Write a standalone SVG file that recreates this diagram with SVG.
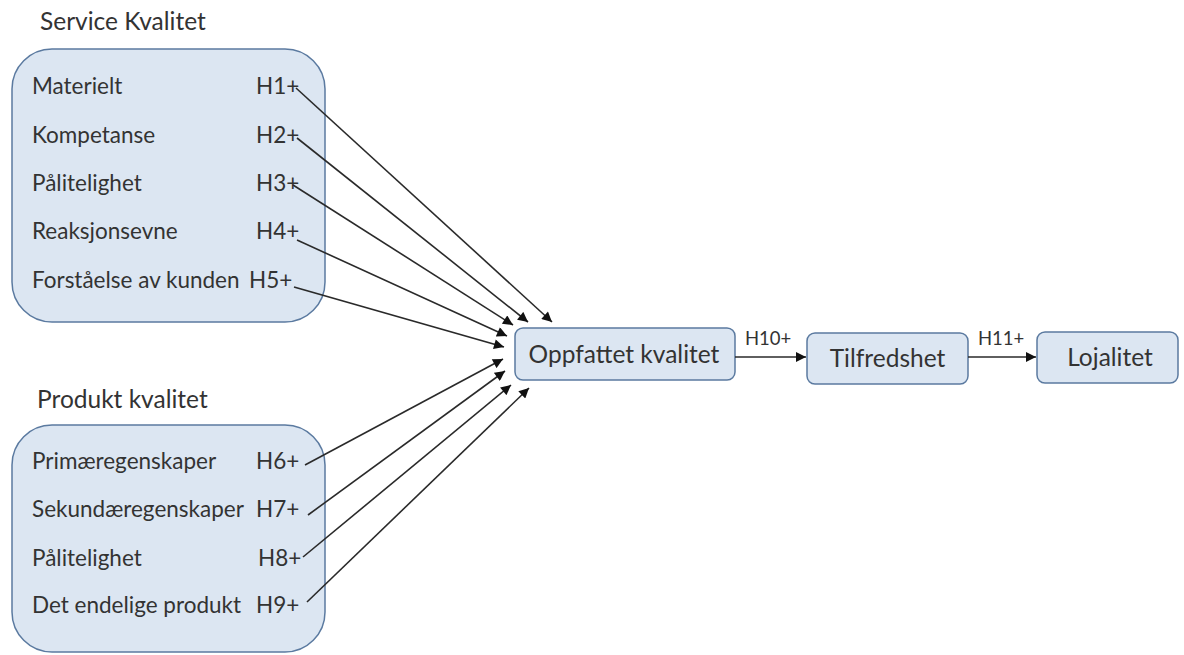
<svg xmlns="http://www.w3.org/2000/svg" width="1184" height="655" viewBox="0 0 1184 655">
<defs>
<style>
.t{font-family:Lato,"Open Sans","Liberation Sans",sans-serif;fill:#333;font-size:22.5px}
.ttl{font-size:24.5px}
.bx{font-size:24.5px}
.h{font-family:Lato,"Open Sans","Liberation Sans",sans-serif;fill:#333;font-size:18.5px}
.grp{fill:#dce6f2;stroke:#5b7aa0;stroke-width:1.5}
.box{fill:#dce6f2;stroke:#5b7aa0;stroke-width:1.5}
.c{stroke:#2a2a2a;stroke-width:1.6;fill:none;marker-end:url(#ah)}
</style>
<marker id="ah" viewBox="0 0 10 10" refX="10" refY="5" markerWidth="11" markerHeight="10" markerUnits="userSpaceOnUse" orient="auto">
<path d="M0,0 L10,5 L0,10 z" fill="#111"/>
</marker>
</defs>
<rect width="1184" height="655" fill="#fff"/>
<g id="service">
<text class="t ttl" x="40" y="30">Service Kvalitet</text>
<rect class="grp" x="12" y="49" width="313" height="273" rx="40" ry="40"/>
<text class="t" x="32" y="94">Materielt</text>
<text class="t" x="32" y="143">Kompetanse</text>
<text class="t" x="32" y="191">Pålitelighet</text>
<text class="t" x="32" y="239">Reaksjonsevne</text>
<text class="t" x="32" y="288">Forståelse av kunden</text>
<text class="t" x="256" y="94">H1+</text>
<text class="t" x="256" y="143">H2+</text>
<text class="t" x="256" y="191">H3+</text>
<text class="t" x="256" y="239">H4+</text>
<text class="t" x="249" y="288">H5+</text>
</g>
<g id="produkt">
<text class="t ttl" x="37" y="408">Produkt kvalitet</text>
<rect class="grp" x="12" y="425" width="313" height="227" rx="40" ry="40"/>
<text class="t" x="32" y="469">Primæregenskaper</text>
<text class="t" x="32" y="517">Sekundæregenskaper</text>
<text class="t" x="32" y="566">Pålitelighet</text>
<text class="t" x="32" y="613">Det endelige produkt</text>
<text class="t" x="256" y="469">H6+</text>
<text class="t" x="256" y="517">H7+</text>
<text class="t" x="258" y="566">H8+</text>
<text class="t" x="256" y="613">H9+</text>
</g>
<g id="oppfattet">
<rect class="box" x="515" y="328" width="220" height="52" rx="8" ry="8"/>
<text class="t bx" x="624" y="363" text-anchor="middle">Oppfattet kvalitet</text>
</g>
<g id="tilfredshet">
<rect class="box" x="807" y="333" width="161" height="51" rx="8" ry="8"/>
<text class="t bx" x="887.5" y="367" text-anchor="middle">Tilfredshet</text>
</g>
<g id="lojalitet">
<rect class="box" x="1037" y="332" width="141" height="51" rx="8" ry="8"/>
<text class="t bx" x="1110" y="366" text-anchor="middle">Lojalitet</text>
</g>
<g id="connectors">
<line class="c" x1="296" y1="88" x2="552" y2="322"/>
<line class="c" x1="297" y1="138" x2="528" y2="322"/>
<line class="c" x1="293" y1="185" x2="513" y2="325"/>
<line class="c" x1="297" y1="240" x2="507" y2="336"/>
<line class="c" x1="294" y1="287" x2="504" y2="347"/>
<line class="c" x1="305" y1="465" x2="503" y2="359"/>
<line class="c" x1="308" y1="515" x2="505" y2="371"/>
<line class="c" x1="303" y1="557" x2="511" y2="385"/>
<line class="c" x1="307" y1="602" x2="529" y2="388"/>
<line class="c" x1="735" y1="357" x2="806" y2="357"/>
<line class="c" x1="968" y1="357" x2="1036" y2="357"/>
<text class="h" x="745" y="345">H10+</text>
<text class="h" x="978" y="345">H11+</text>
</g>
</svg>
